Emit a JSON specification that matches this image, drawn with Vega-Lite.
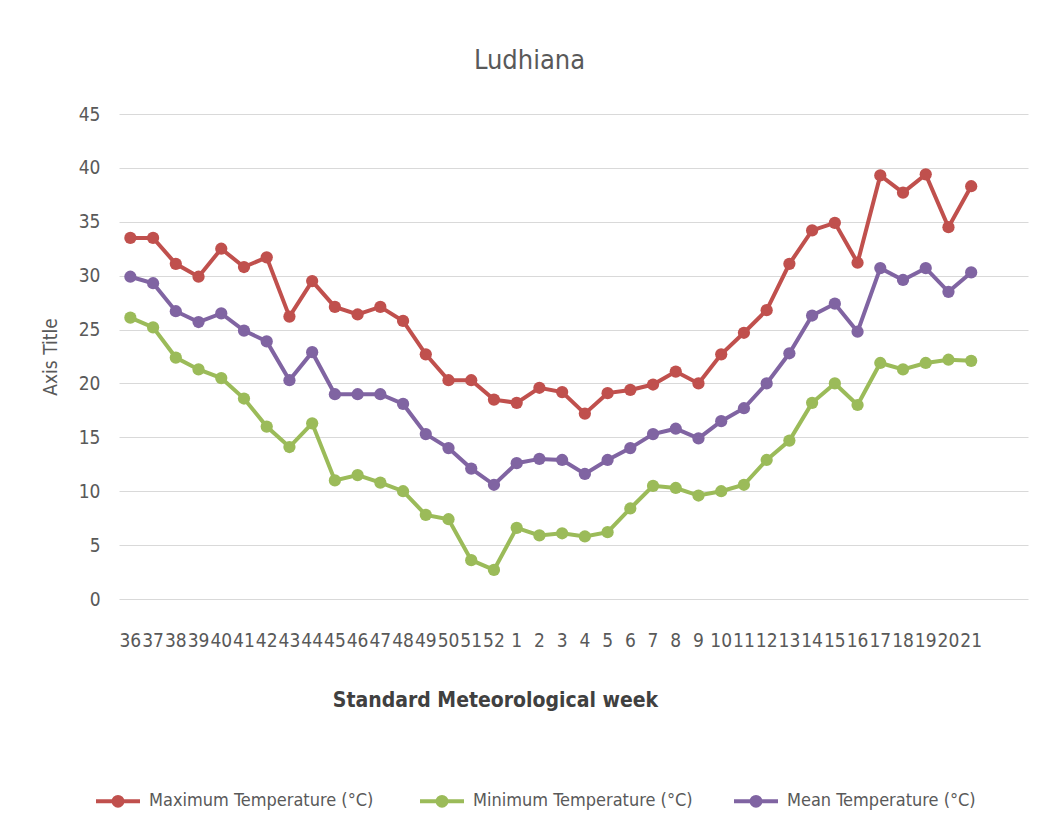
{
  "$schema": "https://vega.github.io/schema/vega-lite/v6.json",
  "width": 909,
  "height": 485,
  "autosize": {"type": "none"},
  "padding": {"left": 119, "top": 114, "right": 10, "bottom": 234},
  "background": "white",
  "config": {
    "font": "Liberation Sans Narrow, DejaVu Sans Condensed, Liberation Sans",
    "view": {"stroke": null}
  },
  "title": {
    "text": "Ludhiana",
    "fontSize": 27,
    "fontWeight": "normal",
    "color": "#595959",
    "anchor": "middle",
    "dx": -44,
    "offset": 30
  },
  "data": {
    "values": [
      {"week": "36", "Max": 33.5, "Min": 26.1, "Mean": 29.9},
      {"week": "37", "Max": 33.5, "Min": 25.2, "Mean": 29.3},
      {"week": "38", "Max": 31.1, "Min": 22.4, "Mean": 26.7},
      {"week": "39", "Max": 29.9, "Min": 21.3, "Mean": 25.7},
      {"week": "40", "Max": 32.5, "Min": 20.5, "Mean": 26.5},
      {"week": "41", "Max": 30.8, "Min": 18.6, "Mean": 24.9},
      {"week": "42", "Max": 31.7, "Min": 16.0, "Mean": 23.9},
      {"week": "43", "Max": 26.2, "Min": 14.1, "Mean": 20.3},
      {"week": "44", "Max": 29.5, "Min": 16.3, "Mean": 22.9},
      {"week": "45", "Max": 27.1, "Min": 11.0, "Mean": 19.0},
      {"week": "46", "Max": 26.4, "Min": 11.5, "Mean": 19.0},
      {"week": "47", "Max": 27.1, "Min": 10.8, "Mean": 19.0},
      {"week": "48", "Max": 25.8, "Min": 10.0, "Mean": 18.1},
      {"week": "49", "Max": 22.7, "Min": 7.8, "Mean": 15.3},
      {"week": "50", "Max": 20.3, "Min": 7.4, "Mean": 14.0},
      {"week": "51", "Max": 20.3, "Min": 3.6, "Mean": 12.1},
      {"week": "52", "Max": 18.5, "Min": 2.7, "Mean": 10.6},
      {"week": "1", "Max": 18.2, "Min": 6.6, "Mean": 12.6},
      {"week": "2", "Max": 19.6, "Min": 5.9, "Mean": 13.0},
      {"week": "3", "Max": 19.2, "Min": 6.1, "Mean": 12.9},
      {"week": "4", "Max": 17.2, "Min": 5.8, "Mean": 11.6},
      {"week": "5", "Max": 19.1, "Min": 6.2, "Mean": 12.9},
      {"week": "6", "Max": 19.4, "Min": 8.4, "Mean": 14.0},
      {"week": "7", "Max": 19.9, "Min": 10.5, "Mean": 15.3},
      {"week": "8", "Max": 21.1, "Min": 10.3, "Mean": 15.8},
      {"week": "9", "Max": 20.0, "Min": 9.6, "Mean": 14.9},
      {"week": "10", "Max": 22.7, "Min": 10.0, "Mean": 16.5},
      {"week": "11", "Max": 24.7, "Min": 10.6, "Mean": 17.7},
      {"week": "12", "Max": 26.8, "Min": 12.9, "Mean": 20.0},
      {"week": "13", "Max": 31.1, "Min": 14.7, "Mean": 22.8},
      {"week": "14", "Max": 34.2, "Min": 18.2, "Mean": 26.3},
      {"week": "15", "Max": 34.9, "Min": 20.0, "Mean": 27.4},
      {"week": "16", "Max": 31.2, "Min": 18.0, "Mean": 24.8},
      {"week": "17", "Max": 39.3, "Min": 21.9, "Mean": 30.7},
      {"week": "18", "Max": 37.7, "Min": 21.3, "Mean": 29.6},
      {"week": "19", "Max": 39.4, "Min": 21.9, "Mean": 30.7},
      {"week": "20", "Max": 34.5, "Min": 22.2, "Mean": 28.5},
      {"week": "21", "Max": 38.3, "Min": 22.1, "Mean": 30.3}
    ]
  },
  "transform": [
    {"fold": ["Max", "Min", "Mean"], "as": ["series", "value"]}
  ],
  "mark": {
    "type": "line",
    "strokeWidth": 4,
    "point": {"filled": true, "size": 150, "opacity": 1}
  },
  "encoding": {
    "x": {
      "field": "week",
      "type": "nominal",
      "sort": null,
      "scale": {"type": "band", "paddingInner": 0, "paddingOuter": 1, "align": 0},
      "axis": {
        "title": "Standard Meteorological week",
        "titleFontSize": 21,
        "titleFontWeight": "bold",
        "titleColor": "#404040",
        "titlePadding": 39,
        "titleX": 376,
        "labelAngle": 0,
        "labelFontSize": 19,
        "labelColor": "#595959",
        "labelPadding": 32,
        "ticks": false,
        "domain": false,
        "grid": false
      }
    },
    "y": {
      "field": "value",
      "type": "quantitative",
      "scale": {"domain": [0, 45], "nice": false},
      "axis": {
        "title": "Axis Title",
        "titleFontSize": 19,
        "titleFontWeight": "normal",
        "titleColor": "#595959",
        "titlePadding": 18,
        "values": [0, 5, 10, 15, 20, 25, 30, 35, 40, 45],
        "labelFontSize": 19,
        "labelColor": "#595959",
        "labelPadding": 19,
        "ticks": false,
        "domain": false,
        "gridColor": "#D9D9D9",
        "gridWidth": 1
      }
    },
    "color": {
      "field": "series",
      "type": "nominal",
      "scale": {
        "domain": ["Max", "Min", "Mean"],
        "range": ["#C0504D", "#9BBB59", "#8064A2"]
      },
      "legend": {
        "title": null,
        "orient": "none",
        "direction": "horizontal",
        "legendX": -25,
        "legendY": 663,
        "labelExpr": "datum.label == 'Max' ? 'Maximum  Temperature (°C)' : datum.label == 'Min' ? 'Minimum Temperature (°C)' : 'Mean Temperature (°C)'",
        "labelFontSize": 18,
        "labelColor": "#595959",
        "labelOffset": 7,
        "labelLimit": 400,
        "columnPadding": 33,
        "symbolType": "M-1,0H1M-0.2,0A0.2,0.2 0 1,0 0.2,0A0.2,0.2 0 1,0 -0.2,0Z",
        "symbolSize": 1936,
        "symbolStrokeWidth": 4,
        "encode": {
          "symbols": {
            "update": {
              "fill": {"field": "value", "scale": "color"},
              "stroke": {"field": "value", "scale": "color"},
              "opacity": {"value": 1}
            }
          }
        }
      }
    }
  }
}
